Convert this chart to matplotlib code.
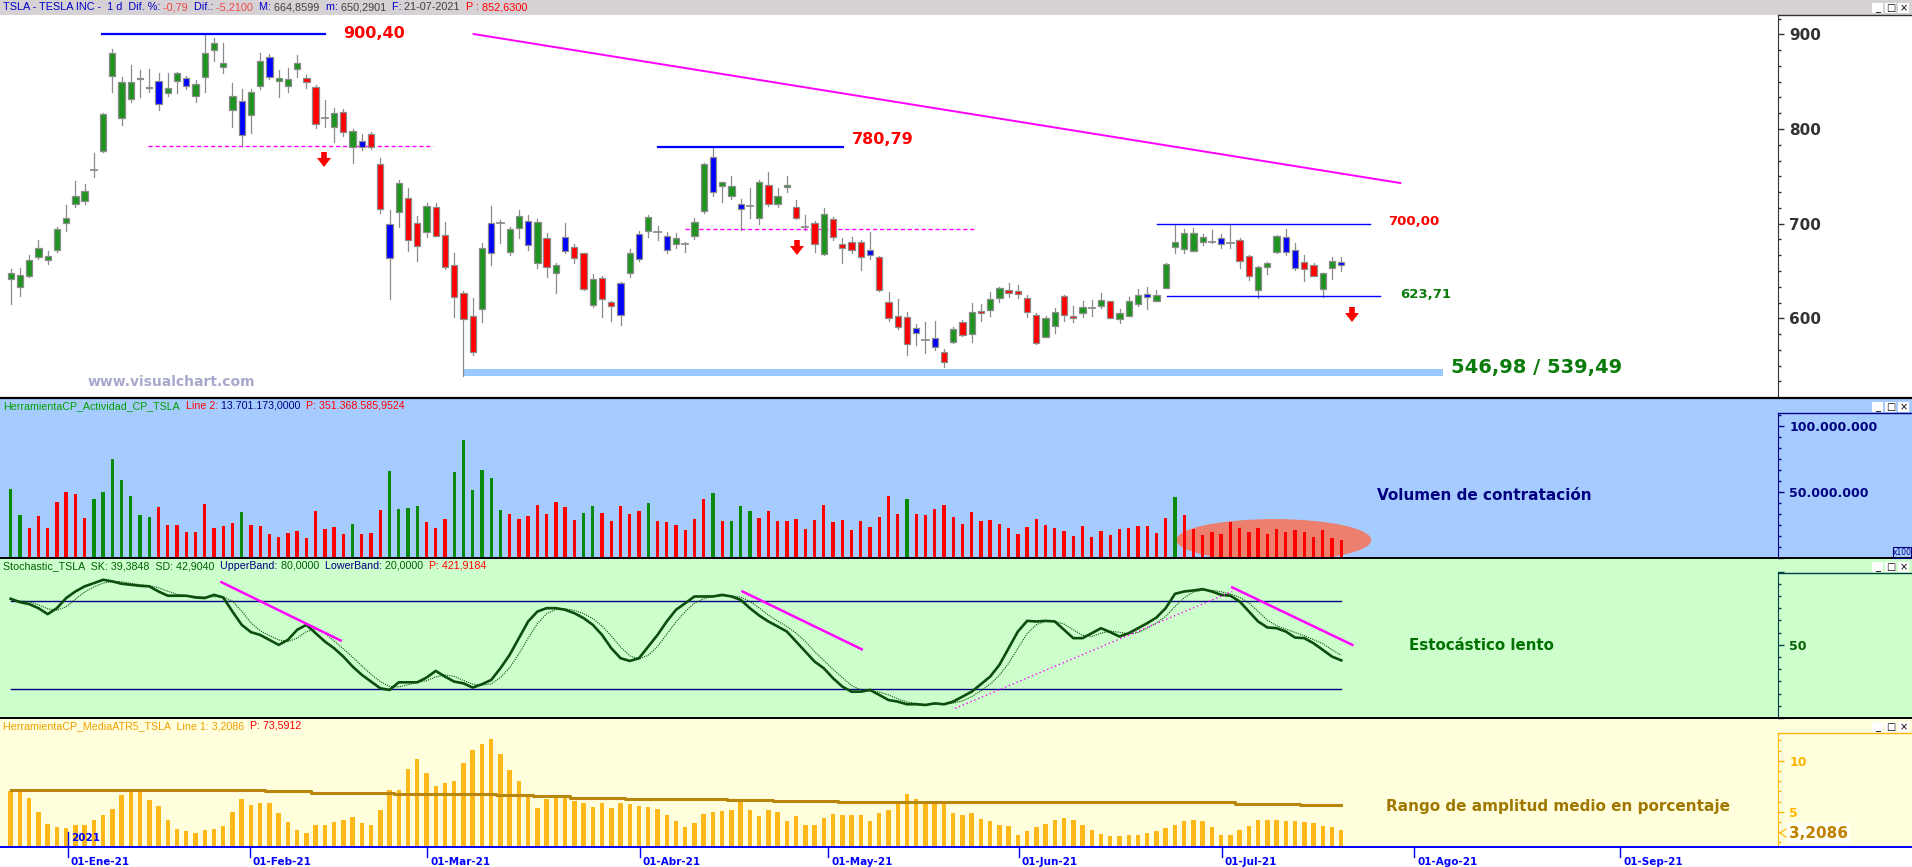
import numpy as np
import matplotlib
matplotlib.use("Agg")
import matplotlib.pyplot as plt
from matplotlib.patches import Rectangle, Polygon, Ellipse
from matplotlib.lines import Line2D
from matplotlib.ticker import FixedLocator
from matplotlib.transforms import blended_transform_factory

W, H = 1912, 867

# TSLA daily candles, 23-Dec-2020 .. 21-Jul-2021
opens = [641.2, 633.4, 644.7, 664.4, 661.6, 672.1, 700.3, 720.7, 723.9, 757.2,
         777.1, 855.9, 811.2, 831.3, 852.4, 843.3, 851.0, 838.4, 850.7, 854.2,
         834.8, 854.5, 883.4, 865.8, 820.0, 829.9, 814.7, 845.4, 876.4, 850.7,
         845.4, 863.3, 854.2, 844.0, 811.9, 801.7, 817.6, 780.6, 787.6, 795.0,
         762.6, 699.3, 711.9, 726.7, 700.3, 690.8, 717.9, 688.3, 656.3, 627.1,
         602.4, 609.5, 700.3, 700.3, 670.4, 695.7, 703.1, 658.1, 684.5, 648.2,
         685.5, 675.7, 668.6, 614.1, 642.2, 616.9, 636.9, 647.5, 688.7, 692.2,
         691.5, 687.0, 678.5, 678.1, 687.0, 713.3, 770.7, 739.6, 729.2, 720.4,
         718.6, 705.6, 740.8, 720.7, 738.3, 717.9, 696.1, 700.3, 667.9, 704.5,
         678.5, 681.0, 681.0, 672.2, 665.1, 617.6, 602.8, 601.7, 590.1, 577.1,
         578.9, 564.8, 575.4, 596.5, 583.1, 608.1, 608.8, 621.1, 629.9, 628.9,
         621.1, 603.5, 580.6, 592.3, 623.9, 602.8, 605.3, 611.3, 613.0, 618.3,
         599.0, 602.8, 614.8, 625.4, 618.7, 632.4, 675.7, 672.9, 671.5, 681.0,
         680.3, 684.5, 679.2, 682.7, 665.8, 629.9, 653.9, 670.4, 686.3, 672.2,
         659.2, 656.0, 630.6, 652.8, 659.9]
highs = [652.0, 652.8, 666.9, 682.7, 671.1, 696.8, 719.7, 744.7, 741.5, 774.3,
         817.2, 884.1, 854.5, 867.6, 862.3, 863.0, 859.5, 859.5, 860.5, 856.0,
         851.7, 900.4, 895.7, 891.2, 848.2, 841.9, 841.9, 879.9, 878.8, 862.3,
         864.0, 878.1, 857.0, 846.4, 830.6, 821.8, 820.7, 800.3, 794.3, 796.8,
         769.0, 714.4, 746.1, 737.3, 708.1, 721.5, 722.2, 702.1, 668.6, 629.2,
         621.1, 679.2, 718.6, 703.8, 696.8, 714.4, 709.1, 704.5, 689.8, 658.1,
         700.3, 678.5, 669.3, 646.8, 644.7, 618.6, 638.7, 672.9, 692.6, 709.1,
         697.5, 691.5, 690.5, 681.0, 705.6, 764.4, 780.8, 744.4, 750.3, 725.7,
         737.3, 746.1, 754.9, 737.3, 750.3, 725.0, 709.1, 703.1, 716.2, 707.4,
         684.5, 686.2, 682.7, 690.8, 665.8, 628.1, 620.4, 607.0, 594.0, 596.5,
         597.5, 567.3, 591.2, 598.2, 615.8, 615.1, 628.2, 632.8, 637.0, 635.2,
         624.7, 606.0, 602.5, 611.3, 624.7, 613.0, 618.3, 619.4, 626.4, 618.3,
         609.5, 622.9, 630.6, 632.8, 629.9, 658.1, 698.6, 694.0, 695.1, 688.7,
         693.3, 689.1, 700.0, 685.2, 666.9, 655.3, 659.9, 688.0, 694.0, 679.2,
         666.9, 658.1, 648.2, 664.4, 664.9]
lows = [615.0, 623.6, 643.3, 662.3, 657.0, 669.7, 692.2, 717.9, 720.4, 749.6,
        776.0, 839.4, 804.2, 828.1, 833.4, 839.4, 820.0, 834.8, 838.4, 841.9,
        828.8, 839.4, 872.1, 859.5, 801.7, 782.0, 796.1, 841.9, 852.4, 834.1,
        839.4, 855.2, 842.9, 800.7, 802.4, 786.6, 792.9, 763.7, 777.8, 778.5,
        711.6, 620.7, 696.1, 671.4, 660.9, 686.2, 686.9, 651.7, 601.7, 539.5,
        561.2, 596.4, 656.3, 679.2, 666.9, 685.2, 672.2, 652.8, 644.0, 626.4,
        669.3, 658.8, 629.9, 611.6, 601.7, 597.5, 592.9, 644.0, 660.9, 686.2,
        682.7, 669.3, 673.9, 670.4, 683.4, 711.6, 729.5, 722.5, 725.7, 693.3,
        705.6, 699.3, 718.6, 717.2, 733.1, 704.5, 693.3, 670.4, 666.9, 682.7,
        658.1, 668.6, 651.0, 662.3, 629.2, 597.5, 588.4, 561.2, 571.8, 563.0,
        566.6, 549.0, 573.6, 581.3, 575.4, 597.5, 602.5, 617.6, 622.9, 621.8,
        601.1, 572.9, 579.9, 584.9, 597.5, 596.5, 601.8, 602.5, 610.6, 600.0,
        594.7, 602.5, 613.0, 609.9, 618.3, 631.7, 669.4, 669.4, 671.5, 677.5,
        679.2, 674.6, 674.6, 652.8, 640.5, 621.1, 646.5, 669.4, 666.9, 651.1,
        639.8, 644.7, 622.9, 641.6, 650.3]
closes = [648.2, 645.7, 661.6, 674.6, 666.2, 694.3, 706.3, 729.5, 734.5, 757.7,
          815.8, 879.9, 849.3, 849.3, 854.2, 844.7, 826.0, 843.6, 858.8, 845.4,
          847.1, 880.6, 891.2, 870.0, 834.8, 793.6, 839.4, 872.1, 855.2, 854.2,
          852.4, 869.3, 849.3, 804.9, 811.9, 816.5, 796.4, 798.2, 781.3, 781.3,
          715.1, 663.4, 742.6, 682.7, 676.4, 719.0, 686.9, 653.8, 622.9, 599.3,
          564.1, 673.9, 668.6, 700.3, 694.0, 708.4, 677.4, 702.1, 654.5, 656.3,
          671.1, 663.4, 630.6, 641.2, 620.0, 613.0, 603.5, 668.6, 662.3, 707.4,
          691.5, 672.2, 684.5, 678.1, 702.1, 762.6, 733.8, 743.6, 740.1, 715.5,
          718.6, 744.3, 720.7, 729.5, 740.8, 705.6, 696.1, 678.5, 709.8, 686.2,
          673.9, 672.2, 665.1, 666.9, 629.9, 600.0, 590.5, 572.9, 584.1, 577.1,
          569.4, 553.5, 588.4, 582.4, 607.0, 605.3, 620.1, 631.6, 626.4, 625.4,
          606.3, 573.6, 600.7, 606.3, 603.5, 600.0, 611.6, 611.3, 619.4, 600.0,
          606.0, 618.3, 624.7, 622.2, 624.7, 657.0, 680.3, 689.8, 689.8, 685.6,
          680.3, 678.2, 679.2, 660.6, 645.1, 653.9, 658.8, 687.0, 669.7, 653.5,
          651.8, 645.1, 647.5, 660.9, 656.4]
# g = green, r = red, b = blue, x = doji
candle_colors = ("ggggggggg" "x" "gggggg" "b" "gg" "b" "ggggg" "b" "gg" "b" "ggg" "rr" "x"
                 "g" "r" "g" "b" "rr" "b" "g" "rr" "g" "rrrrr" "g" "b" "x" "gg" "b" "g" "r"
                 "g" "b" "rr" "g" "rr" "b" "g" "b" "g" "x" "b" "g" "x" "gg" "b" "gg" "b" "x"
                 "g" "r" "gg" "r" "x" "r" "g" "rrrr" "b" "rrrr" "b" "x" "b" "r" "g" "r" "g"
                 "r" "gg" "rrrr" "gg" "rr" "g" "x" "g" "r" "ggg" "b" "gggggg" "x" "b" "x"
                 "rr" "ggg" "bb" "rr" "gg" "b")

# volume, millions
volume_m = [52.3, 32.6, 23.0, 31.8, 23.0, 42.7, 49.7, 48.5, 30.6, 44.4,
            49.7, 75.0, 59.1, 47.0, 32.6, 31.3, 38.6, 25.0, 25.0, 19.7,
            19.7, 40.9, 23.0, 24.2, 26.8, 34.8, 25.0, 24.2, 18.2, 15.9,
            19.2, 20.5, 14.9, 35.6, 22.0, 23.5, 17.9, 25.8, 18.4, 19.2,
            36.4, 65.9, 37.1, 37.9, 39.4, 27.3, 22.5, 29.5, 65.1, 89.4,
            51.5, 66.7, 60.6, 36.4, 33.3, 29.5, 31.8, 40.1, 33.3, 42.4,
            38.6, 28.8, 34.1, 39.4, 34.1, 28.0, 39.6, 33.3, 35.6, 41.7,
            28.0, 27.0, 25.0, 21.2, 29.5, 44.7, 49.2, 28.0, 28.0, 39.4,
            35.6, 30.3, 35.6, 28.0, 28.0, 29.5, 22.0, 28.8, 40.1, 27.5,
            28.8, 21.2, 28.0, 23.5, 31.1, 47.0, 33.3, 44.7, 33.3, 32.6,
            37.1, 40.1, 31.1, 25.8, 34.8, 28.0, 28.8, 26.0, 22.7, 18.4,
            23.5, 29.5, 25.0, 22.7, 20.5, 16.4, 24.2, 15.7, 20.5, 17.4,
            22.0, 23.0, 24.2, 24.2, 18.9, 30.3, 46.2, 32.6, 22.0, 17.4,
            19.7, 18.2, 27.5, 22.7, 19.7, 22.7, 18.2, 22.0, 19.7, 21.2,
            19.7, 15.9, 21.2, 15.2, 13.7]
vol_green_idx = [0, 1, 9, 10, 11, 12, 13, 14, 15, 25, 37, 41, 42, 43, 44, 48, 49, 50,
                 51, 52, 53, 62, 63, 69, 76, 78, 79, 80, 97, 126]

stoch_k = [81.5, 79.2, 77.9, 75.1, 71.0, 75.1, 82.0, 86.5, 90.0, 92.2,
           94.5, 93.4, 91.8, 91.1, 90.4, 90.0, 86.5, 83.6, 83.6, 83.6,
           82.4, 82.0, 84.2, 82.4, 72.8, 63.7, 58.7, 56.8, 53.4, 50.0,
           53.4, 60.3, 63.7, 58.0, 52.3, 47.7, 42.0, 35.2, 29.5, 24.9,
           20.3, 19.2, 24.4, 24.4, 24.4, 27.6, 32.2, 28.3, 24.9, 23.7,
           20.8, 23.1, 26.0, 34.0, 43.2, 54.6, 66.0, 72.8, 75.1, 75.1,
           74.0, 71.7, 68.3, 63.7, 56.8, 47.7, 40.9, 39.0, 40.9, 48.9,
           56.8, 66.0, 74.0, 78.5, 83.1, 83.1, 83.1, 84.2, 83.1, 80.8,
           75.1, 70.1, 66.0, 62.6, 59.1, 52.3, 45.4, 38.6, 34.0, 27.2,
           21.5, 18.0, 18.0, 19.2, 15.8, 12.3, 11.2, 9.4, 9.4, 8.9,
           10.0, 9.4, 11.2, 14.6, 18.0, 23.1, 28.3, 36.3, 47.7, 59.1,
           66.4, 66.0, 66.4, 66.0, 60.3, 54.6, 54.6, 58.0, 61.4, 58.7,
           55.7, 58.0, 61.4, 64.8, 68.7, 75.1, 84.9, 86.5, 87.2, 88.1,
           86.5, 84.2, 83.6, 79.7, 72.8, 66.0, 61.9, 61.4, 59.1, 55.0,
           54.6, 51.1, 46.6, 42.0, 39.4]
stoch_d = [81.0, 80.0, 79.5, 77.4, 74.7, 73.7, 76.0, 81.2, 86.2, 89.6,
           92.2, 93.4, 93.2, 92.1, 91.1, 90.5, 89.0, 86.7, 84.6, 83.6,
           83.2, 82.7, 82.9, 82.9, 79.8, 73.0, 65.1, 59.7, 56.3, 53.4,
           52.3, 54.6, 59.1, 60.7, 58.0, 52.7, 47.3, 41.6, 35.6, 29.9,
           24.9, 21.5, 21.3, 22.7, 24.4, 25.5, 28.1, 29.4, 28.5, 25.6,
           23.1, 22.5, 23.3, 27.7, 34.4, 43.9, 54.6, 64.5, 71.3, 74.3,
           74.7, 73.6, 71.3, 67.9, 62.9, 56.1, 48.5, 42.5, 40.3, 42.9,
           48.9, 57.2, 65.6, 72.8, 78.5, 81.6, 83.1, 83.5, 83.5, 82.7,
           79.7, 75.3, 70.4, 66.2, 62.6, 58.0, 52.3, 45.4, 39.3, 33.3,
           27.6, 22.2, 19.2, 18.4, 17.7, 15.8, 13.1, 11.0, 10.0, 9.2,
           9.4, 9.4, 10.2, 11.7, 14.6, 18.6, 23.1, 29.2, 37.4, 47.7,
           57.7, 63.8, 66.3, 66.1, 64.2, 60.3, 56.5, 55.7, 58.0, 59.4,
           58.6, 57.5, 58.4, 61.4, 65.0, 69.5, 76.2, 82.2, 86.2, 87.3,
           87.3, 86.3, 84.8, 82.5, 78.7, 72.8, 66.9, 63.1, 60.8, 58.5,
           56.2, 53.6, 50.8, 46.6, 42.9]

atr_pct = [7.0, 7.0, 6.34, 4.93, 3.82, 3.50, 3.40, 3.73, 3.73, 4.22,
           4.71, 5.29, 6.67, 7.25, 7.0, 6.18, 5.59, 4.22, 3.33, 3.14,
           2.88, 3.24, 3.30, 3.56, 4.97, 6.27, 5.62, 5.82, 5.82, 4.84,
           3.95, 3.24, 2.91, 3.73, 3.73, 3.95, 4.15, 4.51, 3.89, 3.66,
           5.13, 7.09, 7.16, 9.22, 10.16, 8.79, 7.48, 7.78, 8.04, 9.77,
           11.08, 11.67, 12.16, 10.65, 9.05, 7.97, 6.76, 5.36, 6.27, 6.57,
           6.44, 6.08, 5.85, 5.46, 5.85, 5.36, 5.85, 5.78, 5.59, 5.46,
           5.26, 4.71, 4.12, 3.50, 3.89, 4.80, 4.93, 5.03, 5.20, 6.01,
           5.20, 4.54, 5.20, 4.97, 4.12, 4.54, 3.73, 3.73, 4.38, 4.80,
           4.64, 4.71, 4.71, 4.05, 4.87, 5.16, 5.82, 6.76, 6.27, 5.82,
           5.82, 5.82, 4.87, 4.71, 4.87, 4.31, 4.12, 3.73, 3.63, 2.75,
           3.07, 3.50, 3.79, 4.22, 4.38, 4.15, 3.73, 3.24, 2.81, 2.58,
           2.58, 2.68, 2.68, 2.91, 3.07, 3.40, 3.73, 4.05, 4.15, 4.12,
           3.50, 2.75, 2.75, 3.24, 3.63, 4.15, 4.22, 4.15, 4.05, 4.12,
           3.95, 3.89, 3.63, 3.50, 3.21]
# long ATR average, piecewise flat: first bar of each step and its level
atr_ma_start = [0, 28, 33, 42, 53, 57, 61, 67, 78, 83, 90, 103, 118, 133, 140]
atr_ma_level = [7.09, 7.0, 6.88, 6.76, 6.62, 6.5, 6.38, 6.27, 6.15, 6.05, 5.95, 6.0, 5.92, 5.78, 5.65]

date_labels = ["01-Ene-21", "01-Feb-21", "01-Mar-21", "01-Abr-21", "01-May-21",
               "01-Jun-21", "01-Jul-21", "01-Ago-21", "01-Sep-21"]
date_bars = [6.2, 25.9, 45.1, 68.1, 88.5, 109.1, 131.1, 151.9, 174.2]

top_level, top_level2 = 900.40, 780.79
range_hi, range_lo = 700.00, 623.71
zone_hi, zone_lo = 546.98, 539.49

n = len(closes)
idx = np.arange(n)

plt.rcParams['font.family'] = 'DejaVu Sans'
fig = plt.figure(figsize=(W / 100, H / 100), dpi=100)


def fx(x):
    return x / W


def fy(y):
    return 1 - y / H


def band(y0, y1, color, x0=0, x1=W, z=-10, ec='none'):
    fig.add_artist(Rectangle((fx(x0), fy(y1)), (x1 - x0) / W, (y1 - y0) / H,
                             transform=fig.transFigure, fc=color, ec=ec, lw=0.8, zorder=z))


def hline(y, x0, x1, color, lw=1.0):
    fig.add_artist(Line2D([fx(x0), fx(x1)], [fy(y), fy(y)], color=color, lw=lw, zorder=5))


def ftext(x, y, s, **kw):
    kw.setdefault('va', 'center')
    return fig.text(fx(x), fy(y), s, **kw)


def colored_line(x, y, parts, size=8):
    r = fig.canvas.get_renderer()
    for s, c in parts:
        t = ftext(x, y, s, color=c, fontsize=size, family='Liberation Sans')
        x += t.get_window_extent(renderer=r).width


def down_arrow(xc, yt):
    pts = [(xc - 2.8, yt), (xc + 2.8, yt), (xc + 2.8, yt + 6), (xc + 7, yt + 6),
           (xc, yt + 15), (xc - 7, yt + 6), (xc - 2.8, yt + 6)]
    fig.add_artist(Polygon([(fx(a), fy(b)) for a, b in pts], closed=True,
                           transform=fig.transFigure, fc='#ff0000', ec='none', zorder=6))


# panel backgrounds
band(0, 15, '#d5d1d5')
band(397, 558, '#a6ccff')
band(558, 718, '#ccffcc')
band(718, 847, '#ffffdd')

XL = (-10.7 / 9.24, (1778 - 10.7) / 9.24)


def panel(y0, y1):
    ax = fig.add_axes([0, fy(y1), 1778 / W, (y1 - y0) / H])
    ax.set_facecolor('none')
    for s in ['top', 'left', 'bottom']:
        ax.spines[s].set_visible(False)
    ax.set_xlim(*XL)
    ax.set_xticks([])
    ax.yaxis.tick_right()
    return ax


def right_axis(ax, color, major, labels, minor, size):
    ax.spines['right'].set_color(color)
    ax.set_yticks(major, labels, fontweight='bold', fontsize=size, color=color)
    ax.yaxis.set_minor_locator(FixedLocator(minor))
    ax.tick_params(axis='y', which='major', length=4.5, width=1, color=color, pad=3.6)
    ax.tick_params(axis='y', which='minor', length=2.5, width=1, color=color)


# ---------------- price
ax_p = panel(15, 397)
ax_p.set_ylim(516.9, 920.4)
body_col = {'g': '#1f931f', 'r': '#ff0000', 'b': '#0000ff'}
for i in idx:
    c = candle_colors[i]
    ax_p.plot([i, i], [lows[i], highs[i]], color='#8c8c8c', lw=0.9, zorder=2)
    if c == 'x':
        ax_p.plot([i - 0.34, i + 0.34], [opens[i], opens[i]], color='#8c8c8c', lw=1.3, zorder=3)
    else:
        lo, hi = min(opens[i], closes[i]), max(opens[i], closes[i])
        ax_p.add_patch(Rectangle((i - 0.34, lo), 0.68, hi - lo, fc=body_col[c],
                                 ec='#8c8c8c', lw=0.9, zorder=3))

ax_p.add_patch(Rectangle((49, zone_lo), 106, zone_hi - zone_lo, fc='#99c9ff', ec='none', zorder=1))
ax_p.plot([9.9, 34.0], [top_level, top_level], color='#0000ff', lw=1.6)
ax_p.plot([14.9, 45.7], [782, 782], color='#ff00ff', lw=1, ls=(0, (3, 2)))
ax_p.plot([50.1, 150.4], [900.3, 742.9], color='#ff00ff', lw=1.4)
ax_p.plot([70.1, 90.1], [top_level2, top_level2], color='#0000ff', lw=1.6)
ax_p.plot([73.0, 104.4], [694, 694], color='#ff00ff', lw=1, ls=(0, (3, 2)))
ax_p.plot([124.1, 147.1], [range_hi, range_hi], color='#0000ff', lw=1)
ax_p.plot([125.1, 148.2], [range_lo, range_lo], color='#0000ff', lw=1)
right_axis(ax_p, '#333333', [600, 700, 800, 900], ['600', '700', '800', '900'],
           np.arange(600 - 4 * 100 / 6, 921, 100 / 6), 11)

down_arrow(324, 152)
down_arrow(797, 240)
down_arrow(1352, 307)
ftext(343, 34, "900,40", color='#ff0000', fontsize=11.5, fontweight='bold')
ftext(852, 139, "780,79", color='#ff0000', fontsize=11.5, fontweight='bold')
ftext(1388, 222, "700,00", color='#ff0000', fontsize=9.5, fontweight='bold')
ftext(1400, 294, "623,71", color='#0a7a0a', fontsize=9.5, fontweight='bold')
ftext(1451, 367, "546,98 / 539,49", color='#0a7a0a', fontsize=14, fontweight='bold')
ftext(171, 382, "www.visualchart.com", color='#a8a8cc', fontsize=10, fontweight='bold', ha='center')

# ---------------- volume
ax_v = panel(397, 558)
ax_v.set_ylim(0, 122e6)
vol_cols = ['#0a8a0a' if i in vol_green_idx else '#ff0000' for i in idx]
ax_v.add_patch(Ellipse((136.7, 13.6e6), 21.1, 31.8e6, fc='#ec7f6d', ec='none', zorder=1))
ax_v.bar(idx, np.array(volume_m) * 1e6, width=0.36, color=vol_cols, zorder=2)
ax_v.spines['right'].set_bounds(0, 109.8e6)
right_axis(ax_v, '#000080', [0, 50e6, 100e6], ['', '50.000.000', '100.000.000'],
           np.arange(0, 109e6, 50e6 / 6), 9)
ftext(1484, 496, "Volumen de contratación", color='#000080', fontsize=11,
      fontweight='bold', ha='center')

# ---------------- stochastic
ax_s = panel(558, 718)
ax_s.set_ylim(0, 109.4)
ax_s.plot([0, n - 1], [80, 80], color='#000080', lw=1)
ax_s.plot([0, n - 1], [20, 20], color='#000080', lw=1)
ax_s.plot(idx, stoch_d, color='#0b4d0b', lw=0.8, ls=(0, (1, 1)))
ax_s.plot(idx, stoch_k, color='#0b4d0b', lw=1.9)
ax_s.plot([22.8, 35.7], [92.9, 53.0], color='#ff00ff', lw=1.8)
ax_s.plot([79.2, 92.1], [86.5, 47.0], color='#ff00ff', lw=1.8)
ax_s.plot([132.2, 145.2], [89.3, 50.0], color='#ff00ff', lw=1.8)
ax_s.plot([102.2, 132.2], [6.6, 86.5], color='#ff00ff', lw=1, ls=(0, (1, 2)))
ax_s.spines['right'].set_bounds(0, 99.5)
right_axis(ax_s, '#004040', [0, 50, 100], ['', '50', ''], np.arange(0, 99, 50 / 6), 9)
for lbl in ax_s.get_yticklabels():
    lbl.set_color('#006000')
ftext(1481, 645, "Estocástico lento", color='#007000', fontsize=10.8, fontweight='bold', ha='center')

# ---------------- ATR %
ax_a = panel(718, 847)
ax_a.set_ylim(1.54, 14.19)
ax_a.bar(idx, atr_pct, width=0.48, color='#ffb71a', zorder=2)
atr_ma = np.repeat(atr_ma_level, np.diff(atr_ma_start + [n]))
ax_a.plot(idx, atr_ma, drawstyle='steps-mid', color='#b8860b', lw=2.2, zorder=3)
ax_a.spines['right'].set_bounds(1.54, 12.75)
right_axis(ax_a, '#ffb400', [5, 10], ['5', '10'], np.arange(2, 12.8, 1), 9)
ftext(1558, 806, "Rango de amplitud medio en porcentaje", color='#a07800', fontsize=11,
      fontweight='bold', ha='center')
ftext(1789, 833, "3,2086", color='#c08000', fontsize=11, fontweight='bold', zorder=8,
      bbox=dict(fc='#fffff4', ec='none', pad=1.5))
fig.add_artist(Line2D([fx(1786), fx(1780), fx(1786)], [fy(829), fy(833), fy(837)],
                      color='#ffb400', lw=0.8, zorder=9))

# date axis
tr = blended_transform_factory(ax_a.transData, fig.transFigure)
for k, (pos, lab) in enumerate(zip(date_bars, date_labels)):
    top = 832 if k == 0 else 847
    ax_a.add_line(Line2D([pos, pos], [fy(top), fy(857)], transform=tr, color='#0000ff',
                         lw=1, clip_on=False))
    ax_a.text(pos + 0.3, fy(862), lab, transform=tr, ha='left', va='center',
              color='#0000ff', fontsize=7.5, fontweight='bold', clip_on=False)
ax_a.text(date_bars[0] + 0.3, fy(838), "2021", transform=tr, ha='left', va='center',
          color='#0000ff', fontsize=7.5, fontweight='bold', clip_on=False)

# separators and frames
hline(397.5, 0, W, '#000000', 1.6)
hline(558, 0, W, '#000000', 1.4)
hline(718, 0, W, '#000000', 1.4)
hline(847, 0, W, '#0000ff', 1.4)
hline(15, 1778, W, '#333333', 1)
hline(413, 1778, W, '#000080', 1)
hline(573, 1778, W, '#004040', 1)
hline(733, 1778, W, '#ffb400', 1)

# x100 box
band(547, 558, 'none', 1893, 1911, z=6, ec='#000080')
ftext(1902, 552.5, "x100", color='#000080', fontsize=5.5, ha='center', zorder=7)

# window buttons
for yt in [3, 402, 562, 722]:
    for k, g in enumerate(['_', '□', '×']):
        x0 = 1872 + 13 * k
        band(yt, yt + 10, '#ffffff', x0, x0 + 11, z=6)
        ftext(x0 + 5.5, yt + 5, g, color='#000000', fontsize=7, ha='center', zorder=7)

# header lines
blue, salmon, dark, red, navy = '#0000c8', '#f04848', '#404040', '#ff0000', '#000080'
colored_line(3, 7.5, [("TSLA - TESLA INC -  1 d  Dif. %:", blue), (" -0,79", salmon),
                      ("  Dif.:", blue), (" -5,2100", salmon), ("  M:", blue), (" 664,8599", dark),
                      ("  m:", blue), (" 650,2901", dark), ("  F:", blue), (" 21-07-2021", dark),
                      ("  P :", red), (" 852,6300", red)], size=7.8)
colored_line(3, 406, [("HerramientaCP_Actividad_CP_TSLA", '#00a000'), ("  Line 2:", red),
                      (" 13.701.173,0000", navy), ("  P: 351.368.585,9524", red)], size=7.7)
colored_line(3, 566, [("Stochastic_TSLA  SK: 39,3848  SD: 42,9040", '#006000'),
                      ("  UpperBand:", navy), (" 80,0000", '#006000'), ("  LowerBand:", navy),
                      (" 20,0000", '#006000'), ("  P: 421,9184", red)], size=7.7)
colored_line(3, 726, [("HerramientaCP_MediaATR5_TSLA  Line 1: 3,2086", '#f0a000'),
                      ("  P: 73,5912", red)], size=7.7)

fig.savefig("out.png", dpi=100)
